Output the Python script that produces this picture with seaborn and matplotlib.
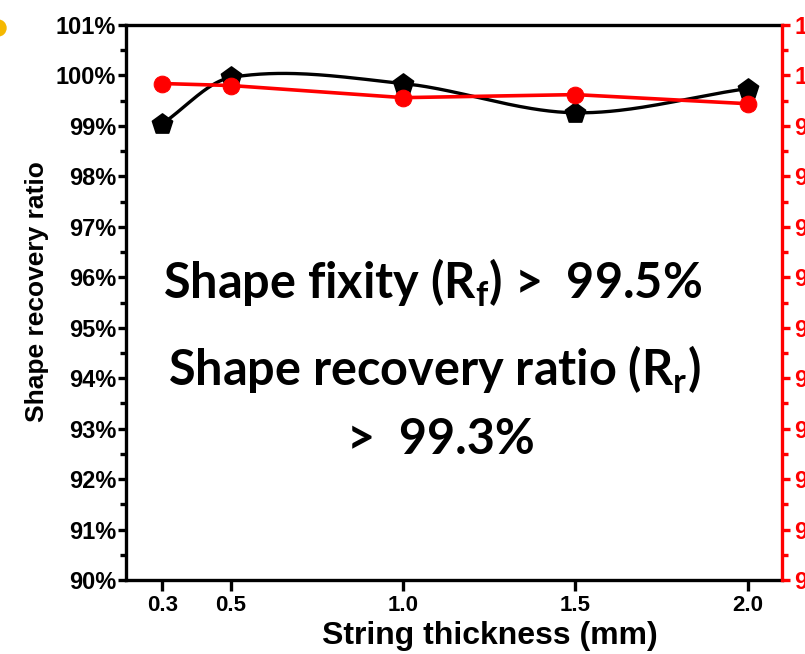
import numpy as np
import pandas as pd
import matplotlib
matplotlib.use('Agg')
import matplotlib.pyplot as plt
from matplotlib.patches import Circle
import seaborn as sns

# values
thickness = [0.3, 0.5, 1.0, 1.5, 2.0]
recovery = [99.04, 99.96, 99.84, 99.26, 99.74]   # black pentagons
fixity = [99.84, 99.80, 99.56, 99.62, 99.44]     # red circles
x_ticks = [0.3, 0.5, 1.0, 1.5, 2.0]
x_tick_labels = ['0.3', '0.5', '1.0', '1.5', '2.0']
y_ticks = list(range(90, 102))
y_tick_labels = [f'{v}%' for v in y_ticks]


def smooth_curve(x, y, n=60):
    # cubic Hermite connector through the measured points (Catmull-Rom tangents)
    x = np.asarray(x, float)
    y = np.asarray(y, float)
    m = np.empty_like(y)
    m[1:-1] = (y[2:] - y[:-2]) / (x[2:] - x[:-2])
    m[0] = (y[1] - y[0]) / (x[1] - x[0])
    m[-1] = (y[-1] - y[-2]) / (x[-1] - x[-2])
    xs_all, ys_all = [], []
    for i in range(len(x) - 1):
        h = x[i + 1] - x[i]
        t = np.linspace(0, 1, n)
        h00 = 2 * t**3 - 3 * t**2 + 1
        h10 = t**3 - 2 * t**2 + t
        h01 = -2 * t**3 + 3 * t**2
        h11 = t**3 - t**2
        xs_all.append(x[i] + t * h)
        ys_all.append(h00 * y[i] + h10 * h * m[i] + h01 * y[i + 1] + h11 * h * m[i + 1])
    return np.concatenate(xs_all), np.concatenate(ys_all)


sns.set_style('ticks')
plt.rcParams['font.family'] = ['Liberation Sans', 'DejaVu Sans']
plt.rcParams['mathtext.fontset'] = 'custom'
plt.rcParams['mathtext.rm'] = 'Lato:bold'
plt.rcParams['text.color'] = 'black'
plt.rcParams['axes.labelcolor'] = 'black'
plt.rcParams['xtick.color'] = 'black'
plt.rcParams['ytick.color'] = 'black'

df = pd.DataFrame({'thickness': thickness, 'recovery': recovery, 'fixity': fixity})
sx, sy = smooth_curve(thickness, recovery)
curve = pd.DataFrame({'x': sx, 'y': sy})

fig = plt.figure(figsize=(8.05, 6.54), dpi=100)
ax = fig.add_axes([0.1565, 0.1131, 0.8149, 0.8487])
ax2 = ax.twinx()

sns.lineplot(data=curve, x='x', y='y', ax=ax, color='black', lw=2.4, zorder=3, sort=False)
sns.scatterplot(data=df, x='thickness', y='recovery', ax=ax, marker='p', s=230,
                color='black', edgecolor='black', zorder=4)
sns.lineplot(data=df, x='thickness', y='fixity', ax=ax2, color='red', lw=2.6,
             marker='o', markersize=12, markeredgecolor='red', zorder=5)

for a in (ax, ax2):
    a.set_xlim(0.195, 2.10)
    a.set_ylim(90, 101)
    a.set_yticks(y_ticks)
    a.set_yticklabels(y_tick_labels, fontsize=17, fontweight='bold')
    a.set_yticks(np.arange(90.5, 101, 1), minor=True)
    a.set_ylabel('')

ax.set_xticks(x_ticks)
ax.set_xticklabels(x_tick_labels, fontsize=16, fontweight='bold')
ax.set_xlabel('String thickness (mm)', fontsize=23, fontweight='bold')
ax.xaxis.set_label_coords(0.555, -0.074)
ax.set_ylabel('Shape recovery ratio', fontsize=19, fontweight='bold')
ax.yaxis.set_label_coords(-0.118, 0.52)

for side in ['left', 'bottom', 'top']:
    ax.spines[side].set_linewidth(2.4)
    ax.spines[side].set_color('black')
ax.spines['right'].set_visible(False)
for side in ['left', 'bottom', 'top']:
    ax2.spines[side].set_visible(False)
ax2.spines['right'].set_linewidth(2.4)
ax2.spines['right'].set_color('red')

ax.tick_params(axis='x', width=2.4, length=8, pad=3, colors='black')
ax.tick_params(axis='y', which='major', width=2.4, length=6, pad=1, colors='black')
ax.tick_params(axis='y', which='minor', width=2.4, length=4, colors='black')
ax2.tick_params(axis='y', which='major', width=2.4, length=6, pad=3,
                colors='red', labelcolor='red')
ax2.tick_params(axis='y', which='minor', width=2.4, length=4, colors='red')

txt = dict(ha='center', va='center', fontsize=35, fontweight='bold',
           family='Lato', color='black', transform=ax.transAxes)
ax.text(0.467, 0.535, r'Shape fixity (R$_\mathrm{f}$) >  99.5%', **txt)
ax.text(0.47, 0.378, r'Shape recovery ratio (R$_\mathrm{r}$)', **txt)
ax.text(0.48, 0.253, '>  99.3%', **txt)

# small yellow bullet at the top-left edge
fig.patches.append(Circle((-2, 626), 8, transform=None, color='#f5b800', zorder=10))

fig.savefig('out.png', dpi=100)
